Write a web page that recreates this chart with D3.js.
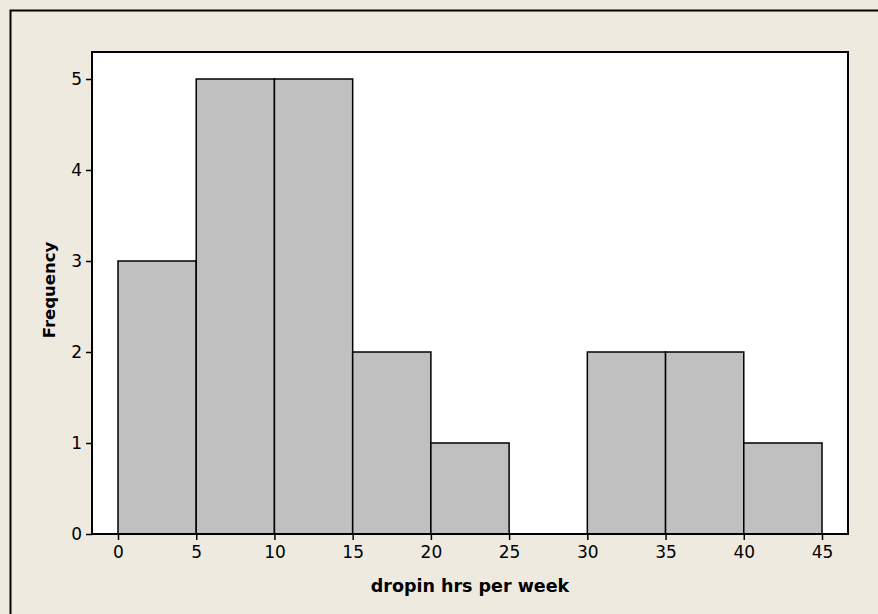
<!DOCTYPE html>
<html>
<head>
<meta charset="utf-8">
<script src="https://cdn.jsdelivr.net/npm/d3@7"></script>
<style>
  html, body { margin: 0; padding: 0; background: #EEEAE0; }
  svg { display: block; }
</style>
</head>
<body>
<script>
// Histogram bins (hours per week) and their counts
const binEdges = [0, 5, 10, 15, 20, 25, 30, 35, 40, 45];
const counts = [3, 5, 5, 2, 1, 0, 2, 2, 1];
const xTicks = [0, 5, 10, 15, 20, 25, 30, 35, 40, 45];
const yTicks = [0, 1, 2, 3, 4, 5];
const xTitle = "dropin hrs per week";
const yTitle = "Frequency";

const W = 878, H = 614;
const frame = { left: 92, top: 52, right: 848, bottom: 534 };

const svg = d3.select("body").append("svg").attr("width", W).attr("height", H);

// Outer panel
svg.append("rect").attr("x", 0).attr("y", 0).attr("width", W).attr("height", H).attr("fill", "#EEEAE0");
svg.append("path").attr("d", `M10.5,${H} V10.5 H${W}`).attr("fill", "none").attr("stroke", "#000").attr("stroke-width", 2);

// Plot area
svg.append("rect")
  .attr("x", frame.left).attr("y", frame.top)
  .attr("width", frame.right - frame.left).attr("height", frame.bottom - frame.top)
  .attr("fill", "#fff");

const x = d3.scaleLinear().domain([0, 45]).range([118, 822]);
const y = d3.scaleLinear().domain([0, 5]).range([frame.bottom, 79]);

const bins = counts.map((c, i) => ({ x0: binEdges[i], x1: binEdges[i + 1], n: c }));

svg.append("g").selectAll("rect").data(bins).join("rect")
  .attr("x", d => x(d.x0))
  .attr("y", d => y(d.n))
  .attr("width", d => x(d.x1) - x(d.x0))
  .attr("height", d => y(0) - y(d.n))
  .attr("fill", "#C0C0C0")
  .attr("stroke", "#000")
  .attr("stroke-width", 1.5);

// Plot frame
svg.append("rect")
  .attr("x", frame.left).attr("y", frame.top)
  .attr("width", frame.right - frame.left).attr("height", frame.bottom - frame.top)
  .attr("fill", "none").attr("stroke", "#000").attr("stroke-width", 2);

const font = "Tahoma, 'DejaVu Sans', Verdana, sans-serif";

// X axis
const xAxis = svg.append("g")
  .attr("transform", `translate(0,${frame.bottom})`)
  .call(d3.axisBottom(x).tickValues(xTicks).tickSize(6).tickPadding(6).tickFormat(d3.format("d")));
xAxis.select(".domain").remove();
xAxis.selectAll("line").attr("stroke", "#000").attr("stroke-width", 1.5);
xAxis.selectAll("text").attr("font-family", font).attr("font-size", 17).attr("fill", "#000");

// Y axis
const yAxis = svg.append("g")
  .attr("transform", `translate(${frame.left},0)`)
  .call(d3.axisLeft(y).tickValues(yTicks).tickSize(6).tickPadding(4).tickFormat(d3.format("d")));
yAxis.select(".domain").remove();
yAxis.selectAll("line").attr("stroke", "#000").attr("stroke-width", 1.5);
yAxis.selectAll("text").attr("font-family", font).attr("font-size", 17).attr("fill", "#000");

// Axis titles
svg.append("text")
  .attr("x", 470).attr("y", 592)
  .attr("text-anchor", "middle")
  .attr("font-family", font).attr("font-size", 17.5).attr("font-weight", "bold")
  .text(xTitle);

svg.append("text")
  .attr("transform", `translate(55,290) rotate(-90)`)
  .attr("text-anchor", "middle")
  .attr("font-family", font).attr("font-size", 16.5).attr("font-weight", "bold")
  .text(yTitle);
</script>
</body>
</html>
